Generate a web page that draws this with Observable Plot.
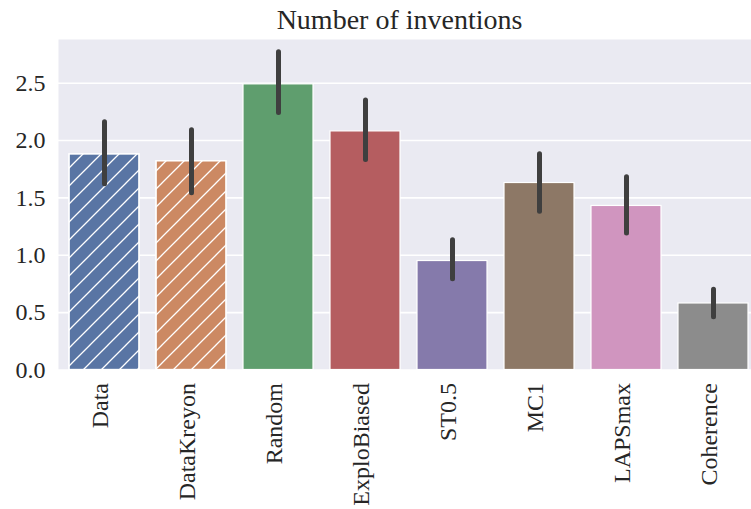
<!DOCTYPE html>
<html>
<head>
<meta charset="utf-8">
<script src="https://cdn.jsdelivr.net/npm/d3@7"></script>
<script src="https://cdn.jsdelivr.net/npm/@observablehq/plot@0.6"></script>
<style>
  html, body { margin: 0; padding: 0; background: #ffffff; }
  #wrap { width: 751px; height: 509px; position: relative; overflow: hidden; }
  #title { height: 39px; position: relative; }
  #title span {
    position: absolute; top: 6px; left: 53px; width: 693px; text-align: center;
    font-family: "Liberation Serif", "DejaVu Serif", serif; font-size: 28px; line-height: 28px; color: #262626;
  }
  #chart { width: 751px; overflow: hidden; }
  svg { display: block; max-width: none !important; }
</style>
</head>
<body>
<div id="wrap">
  <div id="title"><span>Number of inventions</span></div>
  <div id="chart"></div>
</div>
<script>
const categories = ["Data", "DataKreyon", "Random", "ExploBiased", "ST0.5", "MC1", "LAPSmax", "Coherence"];
const means      = [1.88, 1.82, 2.49, 2.08, 0.95, 1.63, 1.43, 0.58];
const ciLow      = [1.62, 1.54, 2.24, 1.83, 0.79, 1.38, 1.19, 0.46];
const ciHigh     = [2.16, 2.09, 2.77, 2.35, 1.13, 1.88, 1.68, 0.70];
const barColors  = ["#5975a4", "#cc8963", "#5f9e6e", "#b55d60", "#857aab", "#8d7866", "#d095bf", "#8c8c8c"];
const hatched    = [true, true, false, false, false, false, false, false];
const yTicks     = [0, 0.5, 1.0, 1.5, 2.0, 2.5];

const rows = categories.map((c, i) => ({
  cat: c, mean: means[i], lo: ciLow[i], hi: ciHigh[i], color: barColors[i], hatch: hatched[i]
}));

// The axes extend slightly past the right edge of the 751px picture (cropped there).
const chart = Plot.plot({
  width: 759,
  height: 470,
  marginTop: 0,
  marginLeft: 58,
  marginRight: 0,
  marginBottom: 139.5,
  style: { fontFamily: "'Liberation Serif', 'DejaVu Serif', serif", fontSize: "24px", color: "#262626", background: "transparent", maxWidth: "none" },
  x: { domain: categories, paddingInner: 0.2, paddingOuter: 0.1, axis: null },
  y: { domain: [0, 2.881], ticks: yTicks, tickFormat: d3.format(".1f"), tickSize: 0, tickPadding: 13, label: null },
  color: { type: "identity" },
  marks: [
    Plot.frame({ fill: "#eaeaf2", stroke: null }),
    Plot.ruleY(yTicks, { stroke: "#ffffff", strokeWidth: 1.6 }),
    Plot.barY(rows, { x: "cat", y: "mean", fill: "color", stroke: "#ffffff", strokeWidth: 1.2 }),
    Plot.barY(rows.filter(d => d.hatch), { x: "cat", y: "mean", fill: "url(#hatch)", stroke: "#ffffff", strokeWidth: 1.2 }),
    Plot.ruleX(rows, { x: "cat", y1: "lo", y2: "hi", stroke: "#3f3f3f", strokeWidth: 5, strokeLinecap: "round" }),
    Plot.text(categories, { x: d => d, text: d => d, frameAnchor: "bottom", rotate: -90, textAnchor: "end",
      dx: 3, dy: 13, fill: "#262626", fontSize: 24 })
  ]
});

// hatch pattern definition (white "/" lines, like matplotlib hatch)
const ns = "http://www.w3.org/2000/svg";
const defs = document.createElementNS(ns, "defs");
const pat = document.createElementNS(ns, "pattern");
pat.setAttribute("id", "hatch");
pat.setAttribute("patternUnits", "userSpaceOnUse");
pat.setAttribute("width", "18");
pat.setAttribute("height", "18");
const path = document.createElementNS(ns, "path");
path.setAttribute("d", "M0,18 L18,0 M-4.5,4.5 L4.5,-4.5 M13.5,22.5 L22.5,13.5");
path.setAttribute("stroke", "#ffffff");
path.setAttribute("stroke-width", "1.3");
path.setAttribute("fill", "none");
pat.appendChild(path);
defs.appendChild(pat);
chart.insertBefore(defs, chart.firstChild);

document.getElementById("chart").appendChild(chart);
</script>
</body>
</html>
